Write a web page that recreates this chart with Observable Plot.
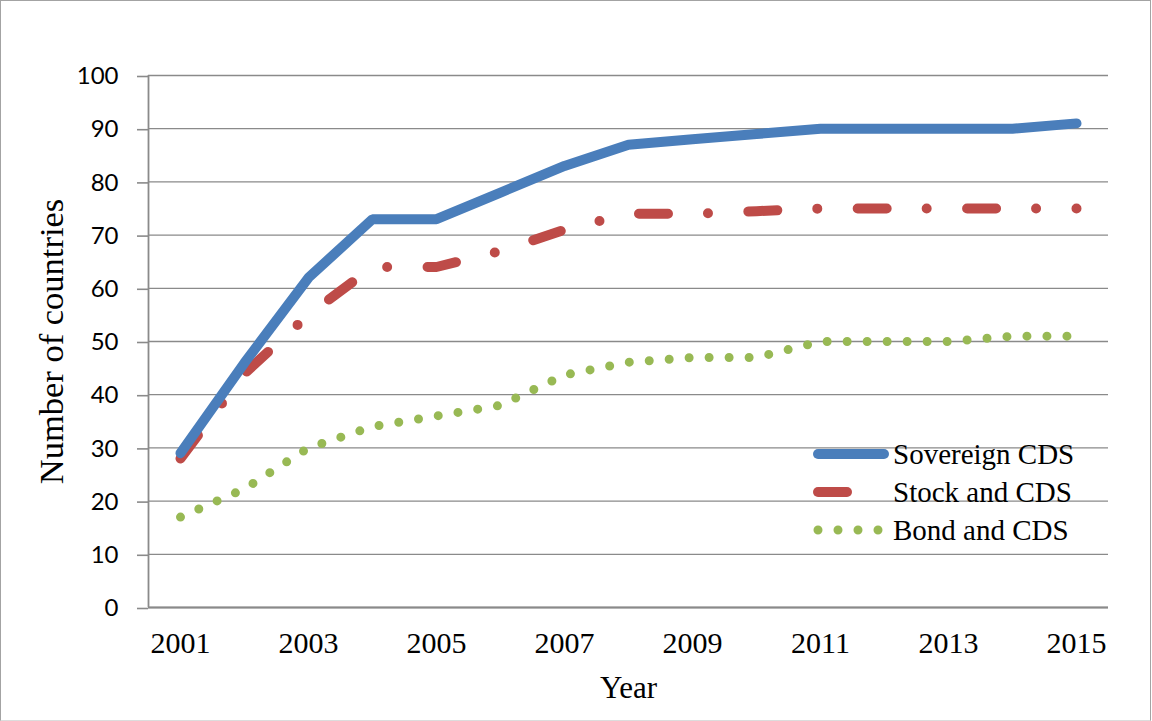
<!DOCTYPE html>
<html><head><meta charset="utf-8">
<script src="https://cdn.jsdelivr.net/npm/d3@7"></script>
<script src="https://cdn.jsdelivr.net/npm/@observablehq/plot@0.6"></script>
<style>
html,body{margin:0;padding:0;background:#fff;}
#wrap{position:relative;width:1152px;height:721px;overflow:hidden;background:#fff;}
#border{position:absolute;left:0;top:0;width:1151px;height:721px;box-sizing:border-box;border:1px solid #a3a3a3;border-bottom-color:#dcdcdc;pointer-events:none;}
#legend{position:absolute;left:0;top:0;pointer-events:none;}
</style></head><body><div id="wrap"></div>
<script>
// ---- data ----
const years = [2001,2002,2003,2004,2005,2006,2007,2008,2009,2010,2011,2012,2013,2014,2015];
const sovereignCDS = [29,46,62,73,73,78,83,87,88,89,90,90,90,90,91];
const stockAndCDS = [28,44,55,64,64,67,71,74,74,74.5,75,75,75,75,75];
const bondAndCDS = [17,22.3,30,34,36,38,43.7,46.1,47,47,50,50,50,51,51];
const seriesNames = ["Sovereign CDS","Stock and CDS","Bond and CDS"];
const seriesColors = ["#4A7EBB","#BE4B48","#98B954"];
const yTicks = [0,10,20,30,40,50,60,70,80,90,100];
const xTicks = [2001,2003,2005,2007,2009,2011,2013,2015];
const xDomain = [2000.5, 2015.5];
const yDomain = [0, 100];
const yTitle = "Number of countries";
const xTitle = "Year";

const rows = years.map((year, i) => ({year, s: sovereignCDS[i], k: stockAndCDS[i], b: bondAndCDS[i]}));

const serif = "'Liberation Serif','Times New Roman',serif";
const gray = "#8a8a8a";

const chart = Plot.plot({
  width: 1152, height: 721,
  marginLeft: 148, marginRight: 44, marginTop: 75, marginBottom: 114,
  style: {background: "transparent", color: "#000", overflow: "visible"},
  x: {domain: xDomain},
  y: {domain: yDomain},
  marks: [
    Plot.gridY(yTicks, {stroke: gray, strokeOpacity: 1, strokeWidth: 1.3}),
    Plot.ruleX([xDomain[0]], {stroke: gray, strokeWidth: 1.8}),
    Plot.ruleY([yDomain[0]], {stroke: gray, strokeWidth: 1.8}),
    Plot.axisY(yTicks, {tickSize: 11, tickPadding: 19, stroke: gray, strokeWidth: 1.6, fontSize: 24, fontFamily: "Lato", dy: 1, label: null}),
    Plot.axisX(xTicks, {tickSize: 0, tickPadding: 24, tickFormat: d => String(d), fontSize: 30, fontFamily: serif, label: null}),
    Plot.text([yTitle], {text: d => d, frameAnchor: "left", dx: -97, rotate: -90, fontSize: 34.5, fontFamily: serif, textAnchor: "middle", lineAnchor: "middle", fill: "#000"}),
    Plot.text([xTitle], {text: d => d, frameAnchor: "bottom", dy: 81, fontSize: 31, fontFamily: serif, textAnchor: "middle", lineAnchor: "middle", fill: "#000"}),
    Plot.line(rows, {x: "year", y: "b", stroke: seriesColors[2], strokeWidth: 9, strokeLinecap: "round", strokeDasharray: "0 20"}),
    Plot.line(rows, {x: "year", y: "k", stroke: seriesColors[1], strokeWidth: 10, strokeLinecap: "round", strokeLinejoin: "round", strokeDasharray: "29 40 0 40.4"}),
    Plot.line(rows, {x: "year", y: "s", stroke: seriesColors[0], strokeWidth: 10, strokeLinecap: "round", strokeLinejoin: "miter"})
  ]
});

const wrap = document.getElementById("wrap");
wrap.appendChild(chart);

// legend overlay
const lg = d3.select(wrap).append("svg").attr("id", "legend").attr("width", 1152).attr("height", 721);
const legendRows = [
  {y: 454, dash: null, x2: 884, w: 10},
  {y: 492, dash: null, x2: 847, w: 10},
  {y: 530, dash: "0 20", x2: 878.5, w: 9}
];
legendRows.forEach((r, i) => {
  lg.append("line").attr("x1", 818).attr("x2", r.x2).attr("y1", r.y).attr("y2", r.y)
    .attr("stroke", seriesColors[i]).attr("stroke-width", r.w).attr("stroke-linecap", "round")
    .attr("stroke-dasharray", r.dash);
  lg.append("text").attr("x", 893).attr("y", r.y + 9.5).attr("font-family", serif).attr("font-size", 29)
    .attr("fill", "#000").text(seriesNames[i]);
});
d3.select(wrap).append("div").attr("id", "border");
</script>
</body></html>
